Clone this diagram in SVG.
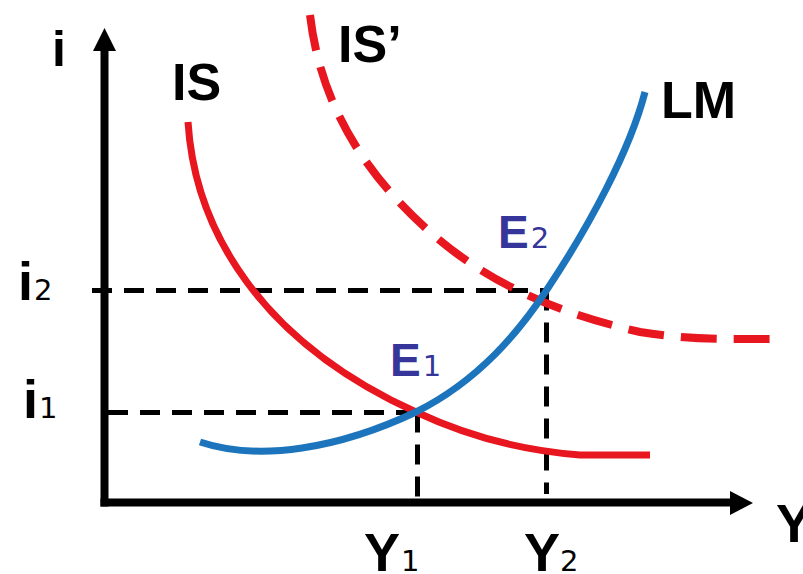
<svg xmlns="http://www.w3.org/2000/svg" width="803" height="574" viewBox="0 0 803 574">
<style>
.lbl{font-family:"Liberation Sans",Arial,sans-serif;font-weight:bold;fill:#000}
.sub{font-family:"DejaVu Sans","Liberation Sans",sans-serif;font-weight:normal;font-size:29px}
.eq{fill:#35359a}
.axis{stroke:#000;stroke-width:8;fill:none}
.guide{stroke:#000;stroke-width:5;stroke-dasharray:20 12;fill:none}
.is{stroke:#e8161e;stroke-width:7;fill:none}
.isd{stroke:#e8161e;stroke-width:8;fill:none;stroke-dasharray:36 17}
.lm{stroke:#1c75bc;stroke-width:7;fill:none}
</style>
<rect width="803" height="574" fill="#fff"/>
<g id="axes">
<line class="axis" x1="104.5" y1="48" x2="104.5" y2="506.5"/>
<polygon points="104.5,28 93,51 116,51" fill="#000"/>
<line class="axis" x1="100.5" y1="502.5" x2="733" y2="502.5"/>
<polygon points="753,503 730,491 730,515" fill="#000"/>
</g>
<g id="connectors">
<path class="guide" d="M92,290.5 H546 M546.5,290.5 V494"/>
<path class="guide" d="M108,412.5 H418 M417.5,412.5 V499"/>
</g>
<g id="IS-curve">
<path class="is" d="M188,122 C195,232 262,342 416,412 C480,442 540,452 580,455 L650,455"/>
</g>
<g id="IS-prime-curve">
<path class="isd" d="M310,15 C320,100 360,170 430,232 C500,294 580,318 640,332 C690,340 730,339 775,339"/>
</g>
<g id="LM-curve">
<path class="lm" d="M200,442 C260,462 340,448 416,412 C480,380 520,330 546,291 C590,225 630,150 645,92"/>
</g>
<g id="labels">
<text class="lbl" x="52" y="66" font-size="50">i</text>
<text class="lbl" x="172" y="100" font-size="52">IS</text>
<text class="lbl" x="338" y="62" font-size="52">IS’</text>
<text class="lbl" x="661" y="118" font-size="52">LM</text>
<text class="lbl" x="18" y="300" font-size="54">i<tspan class="sub" dx="1">2</tspan></text>
<text class="lbl" x="23" y="418" font-size="54">i<tspan class="sub" dx="1">1</tspan></text>
<text class="lbl" x="364" y="571" font-size="54">Y<tspan class="sub" dx="1">1</tspan></text>
<text class="lbl" x="524" y="571" font-size="54">Y<tspan class="sub" dx="0">2</tspan></text>
<text class="lbl" x="776" y="542" font-size="54">Y</text>
<text class="lbl eq" x="498" y="248" font-size="46">E<tspan class="sub eq" dx="2">2</tspan></text>
<text class="lbl eq" x="390" y="376" font-size="46">E<tspan class="sub eq" dx="2">1</tspan></text>
</g>
</svg>
